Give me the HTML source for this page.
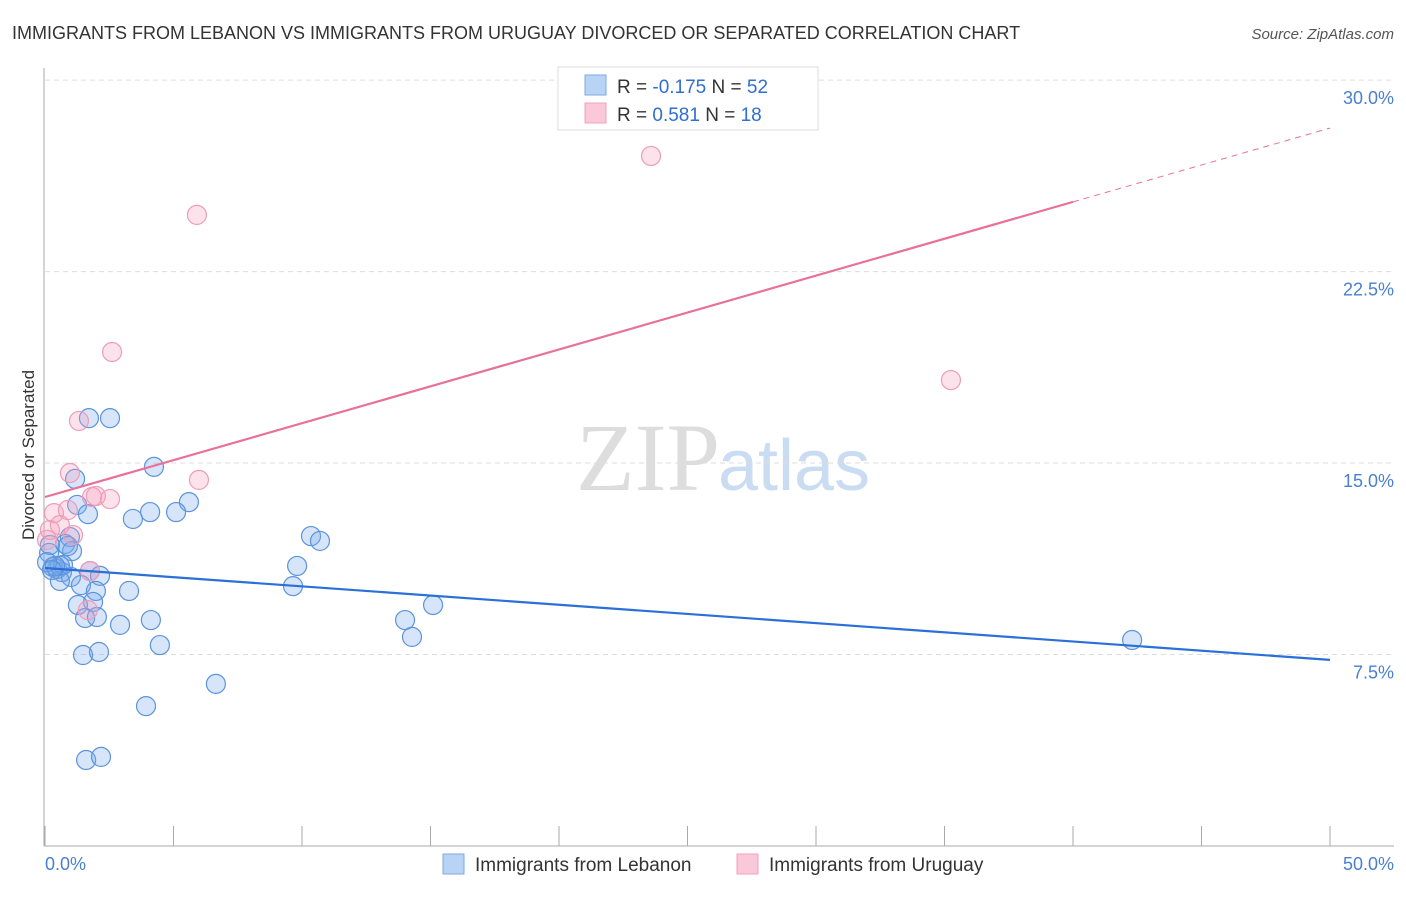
<!DOCTYPE html>
<html><head><meta charset="utf-8"><style>
body{margin:0;background:#fff;font-family:"Liberation Sans",sans-serif}
</style></head><body>
<svg width="1406" height="892" viewBox="0 0 1406 892" xmlns="http://www.w3.org/2000/svg" id="svg">
<text x="12" y="39" font-size="18" fill="#333">IMMIGRANTS FROM LEBANON VS IMMIGRANTS FROM URUGUAY DIVORCED OR SEPARATED CORRELATION CHART</text>
<text x="1394" y="39" font-size="15" font-style="italic" fill="#555" text-anchor="end">Source: ZipAtlas.com</text>
<text x="720" y="490" font-size="96" font-family="Liberation Serif,serif" fill="#ddd" text-anchor="end">ZIP</text>
<text x="718" y="490" font-size="72" fill="#c9dcf2">atlas</text>
<g id="grid"></g>
<line x1="44" y1="68" x2="44" y2="846" stroke="#aaa"/>
<line x1="44" y1="846" x2="1394" y2="846" stroke="#aaa"/>
<text transform="translate(34,455) rotate(-90)" font-size="17" fill="#333" text-anchor="middle">Divorced or Separated</text>
<text x="45" y="870" font-size="18" fill="#4a7fd0">0.0%</text>
<text x="1394" y="870" font-size="18" fill="#4a7fd0" text-anchor="end">50.0%</text>
<g id="marks"></g>
<g>
<rect x="558" y="67" width="260" height="63" fill="#fff" stroke="#ddd"/>
<rect x="585" y="75" width="21" height="20" fill="#b9d3f5" stroke="#7aa8e6"/>
<rect x="585" y="103" width="21" height="20" fill="#fac8d8" stroke="#f0a0bc"/>
<text x="617" y="93" font-size="19" fill="#333">R = <tspan fill="#2f6fd0">-0.175</tspan>   N = <tspan fill="#2f6fd0">52</tspan></text>
<text x="617" y="121" font-size="19" fill="#333">R =  <tspan fill="#2f6fd0"> 0.581</tspan>   N = <tspan fill="#2f6fd0">18</tspan></text>
</g>
<g>
<rect x="443" y="854" width="21" height="20" fill="#b9d3f5" stroke="#7aa8e6"/>
<text x="475" y="871" font-size="19" fill="#333">Immigrants from Lebanon</text>
<rect x="737" y="854" width="21" height="20" fill="#fac8d8" stroke="#f0a0bc"/>
<text x="769" y="871" font-size="19" fill="#333">Immigrants from Uruguay</text>
</g>
</svg>
<script>
const yTicks=[7.5,15,22.5,30];
const yTickLabels=["7.5%","15.0%","22.5%","30.0%"];
const xTicks=[0,5,10,15,20,25,30,35,40,45,50];
const lebX=[2.53,1.71,4.24,1.17,5.60,1.25,4.09,5.10,1.67,3.42,10.35,10.70,0.97,0.78,1.05,0.89,0.19,0.16,0.31,0.47,0.66,0.58,1.75,2.14,1.01,0.58,9.81,1.40,9.65,3.27,1.98,1.87,1.28,15.10,1.56,2.02,4.12,14.01,2.92,14.28,4.47,1.48,2.10,6.65,3.93,1.60,2.18,42.30,0.70,0.39,0.08,0.27];
const lebY=[16.76,16.76,14.85,14.38,13.47,13.36,13.08,13.08,13.00,12.81,12.14,11.95,12.10,11.83,11.55,11.75,11.79,11.48,10.93,10.85,10.73,10.97,10.77,10.58,10.54,10.38,10.97,10.22,10.18,9.99,9.99,9.56,9.44,9.44,8.93,8.97,8.85,8.85,8.66,8.19,7.87,7.48,7.60,6.35,5.48,3.37,3.49,8.07,11.01,10.97,11.12,10.81];
const uruX=[23.58,5.91,2.61,1.32,35.25,0.97,5.99,1.98,2.53,1.83,0.35,0.89,0.58,1.09,0.08,1.75,1.67,0.19];
const uruY=[27.03,24.72,19.35,16.65,18.25,14.61,14.34,13.71,13.59,13.67,13.04,13.16,12.57,12.18,11.99,10.77,9.24,12.38];
const lebTrend=[10.89,-0.072];
const uruTrend=[13.67,0.289];
const uruSolidEnd=40;
const X=v=>45+v*25.7, Y=v=>846-v*25.53;
const NS="http://www.w3.org/2000/svg";
function mk(t,a,p){const e=document.createElementNS(NS,t);for(const k in a)e.setAttribute(k,a[k]);p.appendChild(e);return e;}
const grid=document.getElementById('grid'), marks=document.getElementById('marks');
yTicks.forEach((v,i)=>{
 const l=mk('line',{x1:45,x2:1394,y1:Y(v),y2:Y(v),stroke:'#ddd','stroke-dasharray':'5,4'},grid);
 
 
 const t=mk('text',{x:1394,y:Y(v)+24,'font-size':18,fill:'#4a7fd0','text-anchor':'end'},grid);
 t.textContent=yTickLabels[i];
 
 
});
xTicks.forEach(v=>{
 const l=mk('line',{x1:X(v),x2:X(v),y1:826,y2:846,stroke:'#aaa'},grid);
 
 
});
lebX.forEach((x,i)=>{
 const c=mk('circle',{cx:X(x),cy:Y(lebY[i]),r:9.5,fill:'rgba(120,170,235,0.3)',stroke:'#5b93dc','stroke-width':1.2},marks);
 
 
});
uruX.forEach((x,i)=>{
 const c=mk('circle',{cx:X(x),cy:Y(uruY[i]),r:9.5,fill:'rgba(245,160,190,0.3)',stroke:'#ee9cb8','stroke-width':1.2},marks);
 
 
});
let l=mk('line',{x1:X(0),y1:Y(lebTrend[0]),x2:X(50),y2:Y(lebTrend[0]+lebTrend[1]*50),stroke:'#2a70d6','stroke-width':2.2},marks);


l=mk('line',{x1:X(0),y1:Y(uruTrend[0]),x2:X(uruSolidEnd),y2:Y(uruTrend[0]+uruTrend[1]*uruSolidEnd),stroke:'#e8709a','stroke-width':2.2},marks);


l=mk('line',{x1:X(uruSolidEnd),y1:Y(uruTrend[0]+uruTrend[1]*uruSolidEnd),x2:X(50),y2:Y(uruTrend[0]+uruTrend[1]*50),stroke:'#e8709a','stroke-width':1,'stroke-dasharray':'6,5'},marks);


</script>
</body></html>
